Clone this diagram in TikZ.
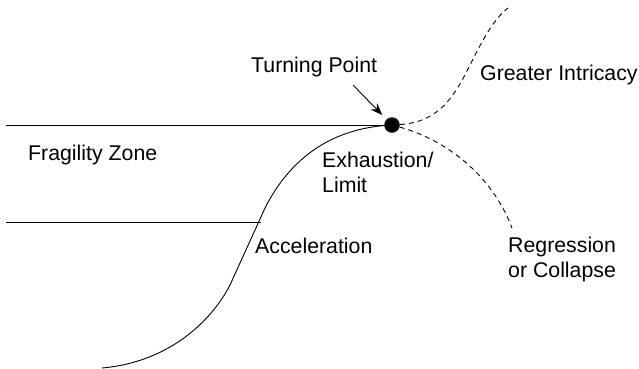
\documentclass[tikz,border=0pt]{standalone}
\usepackage{fontspec}
\setmainfont{Liberation Sans}
\usepackage{tikz}
\usetikzlibrary{arrows,positioning,arrows.meta}

\begin{document}
\begin{tikzpicture}[x=1pt,y=-1pt,
	lbl/.style={anchor=base west, inner sep=0pt, align=left, font=\fontsize{21.3}{24.5}\selectfont},
	branch/.style={line width=0.9pt, dash pattern=on 5pt off 4pt}]
	\useasboundingbox (0,0) rectangle (639,368);
	% turning point and curve
	\node[circle, fill=black, minimum size=15.5pt, inner sep=0pt] (tp) at (392,125) {};
	\coordinate (start) at (102,368);
	\coordinate (zoneTop) at (6,125);
	\coordinate (zoneBot) at (6,222);
	\coordinate (cross) at (260.5,222);
	\coordinate (arrTail) at (353,85);
	\draw[line width=0.9pt] (zoneTop) -- (tp);
	\draw[line width=0.9pt] (zoneBot) -- (cross);
	\draw[line width=0.9pt] (start) .. controls (170,362) and (212,320) .. (230,285)
		-- (265,208) .. controls (298,143) and (350,127) .. (tp.center);
	% branches
	\draw[branch] (tp) .. controls (440,122) and (455,95) .. (470,65)
		.. controls (485,35) and (495,18) .. (508,8);
	\draw[branch] (tp) .. controls (440,138) and (490,170) .. (512,228);
	\draw[-{Stealth[length=12pt,width=9pt]}, line width=0.9pt, shorten >=6pt] (arrTail) -- (tp);
	% labels
	\node[lbl] (tpLbl) at (251,72) {Turning Point};
	\node[lbl] (grLbl) at (480,80) {Greater Intricacy};
	\node[lbl] (frLbl) at (28,160) {Fragility Zone};
	\node[lbl] (exLbl) at (322,192) {Exhaustion/\\Limit};
	\node[lbl] (acLbl) at (255,253) {Acceleration};
	\node[lbl] (reLbl) at (508,277) {Regression\\or Collapse};
\end{tikzpicture}
\end{document}
